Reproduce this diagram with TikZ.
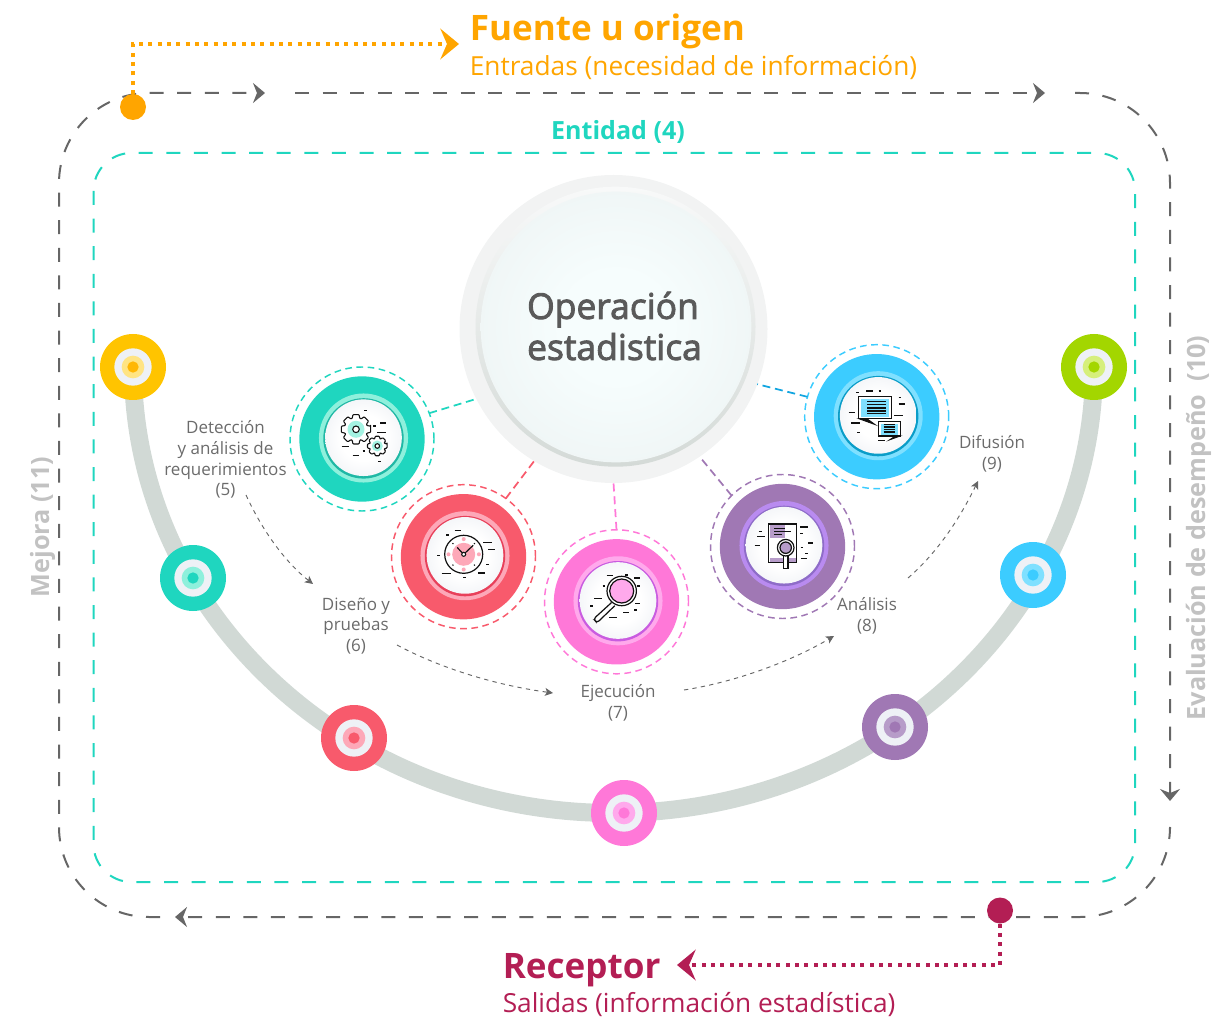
\documentclass[tikz,border=0pt]{standalone}
\usepackage{fontspec}
\setmainfont{Open Sans}
\newfontfamily\semifont[FakeBold=2.5]{Open Sans}
\usetikzlibrary{arrows.meta}
\definecolor{cgray}{HTML}{666666}
\definecolor{ctext}{HTML}{6B6B6B}
\definecolor{cside}{HTML}{C2C2C2}
\definecolor{corange}{HTML}{FFA500}
\definecolor{cmaroon}{HTML}{B31E54}
\definecolor{cteal}{HTML}{1FD6BF}
\definecolor{ctealL}{HTML}{8EF0DC}
\definecolor{ctealD}{HTML}{1FB8A5}
\definecolor{cred}{HTML}{F85A6C}
\definecolor{credL}{HTML}{FDA8B8}
\definecolor{credD}{HTML}{E8405A}
\definecolor{cpink}{HTML}{FF78D8}
\definecolor{cpinkL}{HTML}{FFA9EC}
\definecolor{cpinkD}{HTML}{C95CE0}
\definecolor{cpurple}{HTML}{A078B4}
\definecolor{cpurpleL}{HTML}{B98BF0}
\definecolor{cpurpleD}{HTML}{8E6CC8}
\definecolor{cpurpleS}{HTML}{B79CC9}
\definecolor{cblue}{HTML}{3CCCFF}
\definecolor{cblueL}{HTML}{7FE0FF}
\definecolor{cblueD}{HTML}{0A9DC8}
\definecolor{cblueK}{HTML}{12A5E0}
\definecolor{cyellow}{HTML}{FFC400}
\definecolor{cyellowL}{HTML}{FFE483}
\definecolor{cyellowC}{HTML}{FFB703}
\definecolor{cgreen}{HTML}{A3D600}
\definecolor{cgreenL}{HTML}{D6EF7C}
\definecolor{cwhiteB}{HTML}{EEF1F6}
\definecolor{cfaceE}{HTML}{DCE1EA}
\definecolor{cmainO}{HTML}{F2F3F3}
\definecolor{cmainC}{HTML}{F6FDFD}
\definecolor{cmainE}{HTML}{E6EBEB}
\definecolor{ccresT}{HTML}{F8F9F9}
\definecolor{ccresB}{HTML}{D4DAD7}
\definecolor{carc}{HTML}{D1D9D5}
\definecolor{cmaintext}{HTML}{5A5A5A}
\definecolor{cink}{HTML}{111111}
\pgfdeclareradialshading{stepface}{\pgfpoint{0bp}{0bp}}{color(0bp)=(white);color(15bp)=(white);color(50bp)=(cfaceE)}
\pgfdeclareradialshading{mainface}{\pgfpoint{0bp}{0bp}}{color(0bp)=(cmainC);color(10bp)=(cmainC);color(50bp)=(cmainE)}
\tikzset{
  disc/.style={circle,inner sep=0pt,outer sep=0pt,minimum size=#1},
  flowline/.style={line width=1.5pt,dash pattern=on 10.5pt off 10.2pt},
  flowtip/.style={-{Stealth[length=9pt,width=15pt,inset=3pt]}},
  stepring/.style={disc=108pt,draw=#1,line width=1.1pt,dash pattern=on 5pt off 3.4pt},
  linkline/.style={draw=#1,line width=1.3pt,dash pattern=on 6pt off 3.6pt},
  dotline/.style={line width=3pt,dash pattern=on 3pt off 4pt},
  noteline/.style={draw=cgray,line width=.7pt,dash pattern=on 3.2pt off 3.2pt,-{Stealth[length=6pt,width=6pt,inset=1.5pt]}},
  steplabel/.style={text=ctext,align=center,font=\fontsize{12.75}{15.6}\selectfont},
  sidelabel/.style={text=cside,rotate=90,font=\bfseries\fontsize{18.9}{22}\selectfont},
  icon/.style={draw=cink,line width=.8pt},
}
\newcommand\dotmark[6]{%
  \node[disc=49.5pt,fill=#4] (#1) at (#2,#3) {};
  \node[disc=28pt,fill=cwhiteB] at (#1) {};
  \node[disc=17pt,fill=#5] at (#1) {};
  \node[disc=8.5pt,fill=#6] at (#1) {};
}
\newcommand\stepnode[6]{%
  \node[disc=94pt,fill=#4] (#1disc) at (#2,#3) {};
  \node[stepring=#4] (#1) at (#2,#3) {};
  \node[disc=66.8pt,fill=#5] (#1light) at ({#2+1.5},{#3-1}) {};
  \node[disc=60.3pt,fill=#6] at ({#2+1.5},{#3-0.6}) {};
  \node[disc=57.5pt,shading=stepface] at ({#2+1.5},{#3-1.3}) {};
}
\newcommand\ticks[3]{%
  \foreach \a/\b/\c in {#3} {\draw[icon] ({#1+\a/3},{#2+\c/3}) -- ({#1+\b/3},{#2+\c/3});}
}
\newcommand\gear[7]{% cx cy rout rin hole patch fill
  \begin{scope}[shift={(#1,#2)}]
    \filldraw[icon,fill=white,line join=round,rounded corners=.6pt] (-12:#3)
      \foreach \k [evaluate=\k as \q using \k*45] in {0,...,7} {
        -- ({\q-12}:#3) -- ({\q+12}:#3) -- ({\q+19}:#4) -- ({\q+26}:#4) } -- cycle;
    \fill[#7] (0,0) circle[radius=#6];
    \filldraw[icon,fill=white] (0,0) circle[radius=#5];
  \end{scope}
}
\begin{document}
\begin{tikzpicture}[x=0.75pt,y=-0.75pt,line cap=butt]
\useasboundingbox (0,0) rectangle (1223,1019);

% frame coordinates
\coordinate (flowA) at (160,917);
\coordinate (flowAc) at (59,917);
\coordinate (flowB) at (59,93);
\coordinate (flowC) at (265,93);
\coordinate (flowD) at (295,93);
\coordinate (flowE) at (1045,93);
\coordinate (flowF) at (1075,93);
\coordinate (flowG) at (1170,93);
\coordinate (flowH) at (1170,801);
\coordinate (flowI) at (1170,829);
\coordinate (flowJ) at (1170,917);
\coordinate (flowK) at (175,917);
\coordinate (fuenteTip) at (459,44);
\coordinate (receptorTip) at (677,965);

% outer flow
\draw[flowline,draw=cgray,flowtip,rounded corners=67.5pt] (flowA) -- (flowAc) -- (flowB) -- (flowC);
\draw[flowline,draw=cgray,flowtip] (flowD) -- (flowE);
\draw[flowline,draw=cgray,flowtip,rounded corners=67.5pt] (flowF) -- (flowG) -- (flowH);
\draw[flowline,draw=cgray,flowtip,rounded corners=67.5pt] (flowI) -- (flowJ) -- (flowK);

% entity frame
\draw[flowline,draw=cteal,rounded corners=28.5pt] (93.5,153) rectangle (1135,882);

% big arc
\draw[draw=carc,line width=13.5pt] (133,367) arc[start angle=180,end angle=0,x radius=480.5,y radius=446];

% small marks
\dotmark{markA}{133}{367}{cyellow}{cyellowL}{cyellowC}
\dotmark{markB}{193}{578}{cteal}{ctealL}{cteal}
\dotmark{markC}{354}{738}{cred}{credL}{cred}
\dotmark{markD}{624}{813}{cpink}{cpinkL}{cpink}
\dotmark{markE}{895}{727}{cpurple}{cpurpleS}{cpurple}
\dotmark{markF}{1033}{575}{cblue}{cblueL}{cblue}
\dotmark{markG}{1094}{367}{cgreen}{cgreenL}{cgreen}

% main circle
\node[disc=231pt,fill=cmainO] (main) at (613.5,329) {};
\node[disc=210pt,top color=ccresT,bottom color=ccresB] (maincres) at (615.5,326.7) {};
\node[disc=203pt,shading=mainface] (mainfacenode) at (616,327) {};
\node[text=cmaintext,align=left,font=\semifont\fontsize{26.6}{30.75}\selectfont] (mainlabel) at (614.5,326) {Operación\\estadistica};

% step nodes
\stepnode{stepA}{362}{439}{cteal}{ctealL}{ctealD}
\stepnode{stepB}{463.5}{556.7}{cred}{credL}{credD}
\stepnode{stepC}{616.5}{601.8}{cpink}{cpinkL}{cpinkD}
\stepnode{stepD}{782.5}{546.5}{cpurple}{cpurpleL}{cpurpleD}
\stepnode{stepE}{876.7}{416.7}{cblue}{cblueL}{cblueD}

% connectors
\draw[linkline=cteal] (stepA.21) -- (main.207);
\draw[linkline=cred] (stepB.54) -- (main.239.5);
\draw[linkline=cpink] (stepC.90) -- (main.-90);
\draw[linkline=cpurple] (stepD.135.5) -- (main.-56);
\draw[linkline=cblueK] (stepE.164) -- (main.-21.5);

% gear icon
\gear{356}{429.3}{15}{11.5}{3.3}{8.5}{ctealL!80!white}{}
\gear{377.3}{446}{10}{7.8}{2.3}{5.5}{ctealL!80!white}{}
\ticks{320}{395}{132/142/47,160/168/93,180/198/84,172/198/112,65/88/154,98/118/182,128/136/168,175/183/200}

% clock icon
\begin{scope}[shift={(463.7,554.3)}]
  \fill[credL] (0,0) circle[radius=11.5];
  \foreach \p in {0,90,180,270} {\fill[credL] (\p:15.2) circle[radius=2];}
  \foreach \p in {45,135,225,315} {\fill[cink] (\p:15.2) circle[radius=.8];}
  \draw[icon,line width=.9pt] (0,0) circle[radius=19];
  \draw[icon,line width=.9pt] (-6.5,-6.8) -- (0,0) -- (9.5,-9);
  \filldraw[icon,fill=white] (0,0) circle[radius=2];
\end{scope}
\ticks{420}{512}{104/122/55,78/88/69,190/216/91,205/224/113,52/60/131,198/208/157,65/92/184,175/195/183,130/137/196}

% magnifier icon
\draw[icon,fill=white,line width=.9pt,rounded corners=2pt] (611.6,602.5) -- (593.5,619) -- (597,622.8) -- (614.8,605.7);
\filldraw[icon,fill=white,line width=.9pt] (621.7,591) circle[radius=14.7];
\filldraw[icon,fill=cpinkL,line width=.9pt] (621.7,591) circle[radius=12];
\ticks{540}{340}{200/218/707,255/265/705,283/300/714,188/196/738,290/300/738,162/186/775,150/160/798,285/300/790,250/266/818,283/292/810,208/232/833}

% document icon
\filldraw[icon,fill=white,line width=.9pt] (768.7,524) rectangle (796.7,562.7);
\fill[cpurpleS] (769.5,524.7) rectangle (785.3,537.7);
\fill[cpurpleS] (769.5,557.7) rectangle (795.5,562);
\draw[icon] (774,528.7) -- (785,528.7);
\draw[icon] (774,531.5) -- (791,531.5);
\draw[icon] (774,534.3) -- (781.5,534.3);
\filldraw[icon,fill=white,line width=.9pt] (783.3,555) rectangle (788,568.7);
\filldraw[icon,fill=white,line width=.9pt] (785.7,547.7) circle[radius=8.3];
\filldraw[icon,fill=cpurpleS,line width=.9pt] (785.7,547.7) circle[radius=5.7];
\ticks{738}{502}{187/211/75,187/194/95,62/72/88,58/80/104,50/66/130,188/195/136,210/224/123,201/210/154,190/207/170}

% chat icon
\filldraw[icon,fill=cink,line width=.6pt] (858.7,418.7) -- (875.3,424.7) -- (867,418.7) -- cycle;
\filldraw[icon,fill=white,line width=.9pt] (858.7,396.7) rectangle (891.3,418.7);
\fill[cblueL] (861.3,398.7) rectangle (889.3,416.7);
\foreach \yy in {88,97,108,117,125} {\draw[icon] (867,{372+\yy/3}) -- (886,{372+\yy/3});}
\filldraw[icon,fill=cink,line width=.6pt] (900.3,436) -- (889.3,440) -- (895.3,436) -- cycle;
\filldraw[icon,fill=white,line width=.9pt] (878.7,421.7) rectangle (900.3,436);
\fill[cblueL] (881.3,423.7) rectangle (898,434.7);
\foreach \yy in {158,165,172,180} {\draw[icon] (883.7,{372+\yy/3}) -- (895.3,{372+\yy/3});}
\ticks{832}{372}{72/80/61,103/122/57,140/148/57,200/208/76,200/218/96,50/68/121,187/214/130,57/84/153,75/83/181,138/158/206}

% step labels
\node[steplabel] (labelA) at (225.5,459.5) {Detección\\y análisis de\\requerimientos\\(5)};
\node[steplabel] (labelB) at (356,626) {Diseño y\\pruebas\\(6)};
\node[steplabel] (labelC) at (618,702.5) {Ejecución\\(7)};
\node[steplabel] (labelD) at (867,616) {Análisis\\(8)};
\node[steplabel] (labelE) at (992,453.5) {Difusión\\(9)};

% note arrows
\coordinate (noteA1) at (246,495); \coordinate (noteA2) at (313,584);
\coordinate (noteB1) at (397,645); \coordinate (noteB2) at (553,693);
\coordinate (noteC1) at (684,690); \coordinate (noteC2) at (834,636);
\coordinate (noteD1) at (908,578); \coordinate (noteD2) at (978,481);
\draw[noteline] (noteA1) .. controls (262,530) and (285,562) .. (noteA2);
\draw[noteline] (noteB1) .. controls (440,668) and (495,685) .. (noteB2);
\draw[noteline] (noteC1) .. controls (735,682) and (790,662) .. (noteC2);
\draw[noteline] (noteD1) .. controls (938,552) and (960,518) .. (noteD2);

% source and receiver
\node[disc=19.5pt,fill=corange] (source) at (133,107) {};
\node[disc=19.5pt,fill=cmaroon] (receiver) at (1000,910.5) {};
\draw[dotline,draw=corange,-{Stealth[length=14pt,width=23pt,inset=5pt]}] (source) |- (fuenteTip);
\draw[dotline,draw=cmaroon,-{Stealth[length=14pt,width=23pt,inset=5pt]}] (receiver) |- (receptorTip);

% titles
\node[anchor=base west,inner sep=0pt,text=corange,font=\bfseries\fontsize{26.3}{30}\selectfont] (fuente) at (469.5,41) {Fuente u origen};
\node[anchor=base west,inner sep=0pt,text=corange,font=\fontsize{19.7}{25}\selectfont] (entradas) at (469.5,75.5) {Entradas (necesidad de información)};
\node[anchor=base west,inner sep=0pt,text=cmaroon,font=\bfseries\fontsize{26.3}{30}\selectfont] (receptor) at (502.5,978) {Receptor};
\node[anchor=base west,inner sep=0pt,text=cmaroon,font=\fontsize{19.7}{25}\selectfont] (salidas) at (502.5,1012.7) {Salidas (información estadística)};
\node[anchor=base,inner sep=0pt,text=cteal,font=\bfseries\fontsize{18.8}{22}\selectfont] (entidad) at (618,139.5) {Entidad (4)};
\node[sidelabel] (mejora) at (43,527) {Mejora (11)};
\node[sidelabel] (evaluacion) at (1199,528) {Evaluación de desempeño\ \ (10)};
\end{tikzpicture}
\end{document}
